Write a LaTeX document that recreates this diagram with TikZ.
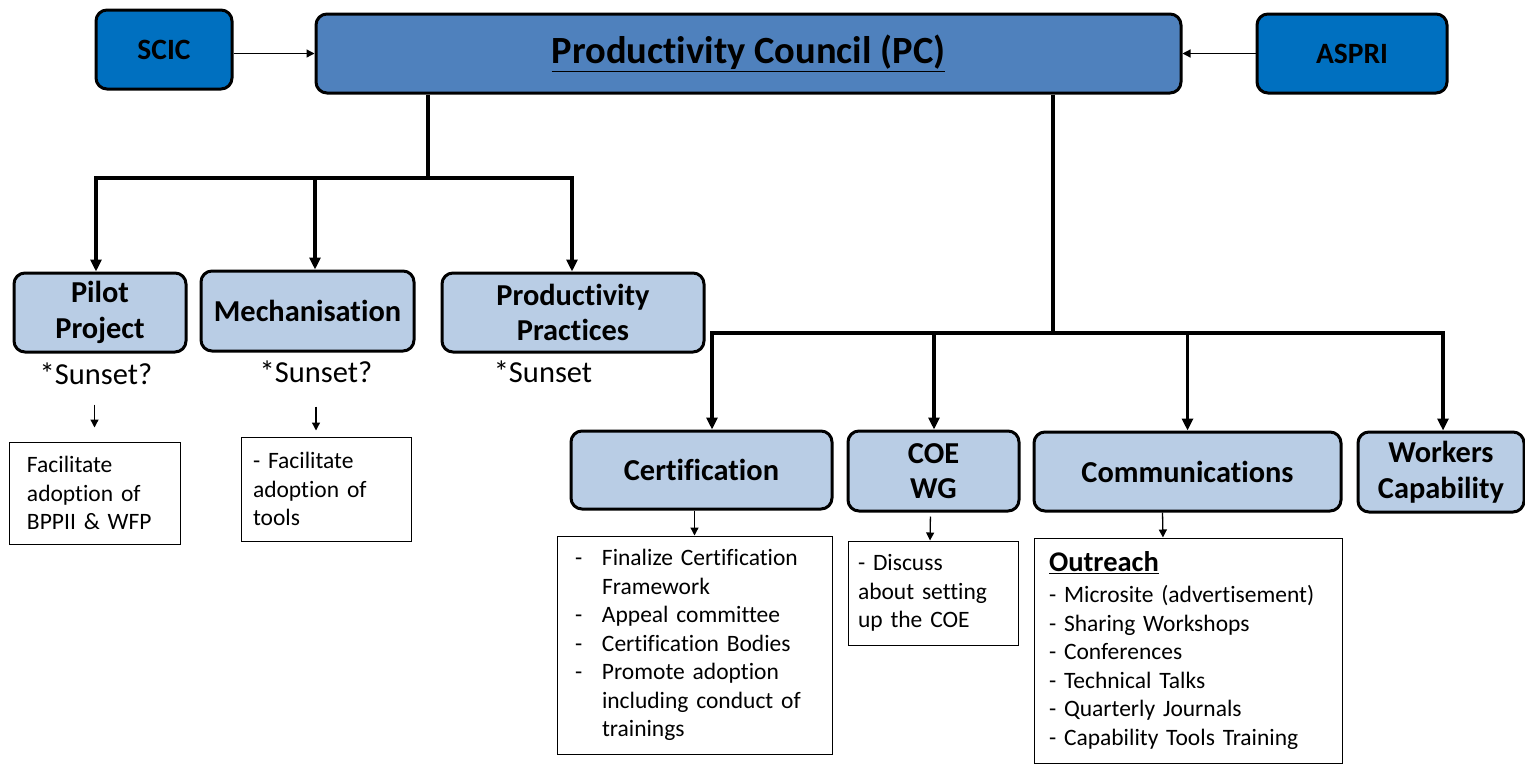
\documentclass[tikz,border=0pt]{standalone}
\usepackage{fontspec}
\setmainfont{Carlito}[Ligatures=NoCommon]
\usetikzlibrary{arrows.meta,calc}
\definecolor{topblue}{HTML}{0070C0}
\definecolor{pcblue}{HTML}{4F81BD}
\definecolor{lightblue}{HTML}{B9CDE5}
\begin{document}
\begin{tikzpicture}[x=1pt,y=-1pt,
  topbox/.style={draw=black, line width=3pt, rounded corners=11pt, fill=topblue, inner sep=0pt,
     font=\fontsize{29.5}{34}\selectfont\bfseries},
  pcbox/.style={draw=black, line width=3pt, rounded corners=11pt, fill=pcblue, inner sep=0pt,
     font=\fontsize{38.5}{44}\selectfont\bfseries},
  subbox/.style={draw=black, line width=3pt, rounded corners=11pt, fill=lightblue, inner sep=0pt,
     align=center, font=\fontsize{30.4}{35.5}\selectfont\bfseries},
  txtbox/.style={draw=black, line width=1pt, fill=white, inner ysep=0pt, align=left,
     font=\fontsize{23.5}{28.5}\selectfont},
  sunset/.style={inner sep=0pt, font=\fontsize{30.5}{34}\selectfont},
  conn/.style={line width=3.5pt},
  connarr/.style={line width=3.5pt, -{Triangle[length=12pt,width=11pt]}},
  small/.style={line width=1.3pt, -{Triangle[length=8pt,width=8pt]}},
]
\useasboundingbox (0,0) rectangle (1525,763);

% top row
\node[pcbox, minimum width=865pt, minimum height=79pt] (pc) at (748.5,53.5) {\raisebox{-3pt}{\underline{Productivity Council (PC)}}};
\node[topbox, minimum width=136pt, minimum height=79pt] (scic) at (164,49.5) {SCIC};
\node[topbox, minimum width=190pt, minimum height=79pt] (aspri) at (1352,53.5) {ASPRI};

\draw[small] ($(scic.east)+(0,4)$) -- ($(scic.east -| pc.west)+(0,4)$);
\draw[small] (aspri.west) -- (aspri.west -| pc.east);

% left group
\node[subbox, minimum width=172pt, minimum height=79pt] (pilot) at (100,312.5) {Pilot\\Project};
\node[subbox, minimum width=213pt, minimum height=80pt] (mech) at (307.5,311) {Mechanisation};
\node[subbox, minimum width=262pt, minimum height=79pt] (pp) at (573,312.5) {Productivity\\Practices};

\coordinate (lj) at (428,178);
\draw[conn] (pc.south -| lj) -- (lj);
\draw[conn] (lj) -- (96,178);
\draw[connarr] (lj) -| ($(pilot.north)+(-4,0)$);
\draw[connarr] (lj) -| ($(mech.north)+(7.5,0)$);
\draw[connarr] (lj) -| ($(pp.north)+(-1,0)$);

\node[sunset] (sun1) at (96,374) {*Sunset?};
\node[sunset] (sun2) at (316,372) {*Sunset?};
\node[sunset] (sun3) at (543,372) {*Sunset};

\node[txtbox, inner xsep=18pt, text width=135pt, minimum height=102pt] (pilotT) at (94.5,493)
  {Facilitate\\adoption of\\BPPII \& WFP};
\node[txtbox, inner xsep=12pt, text width=146pt, minimum height=104pt] (mechT) at (326,489)
  {- Facilitate\\adoption of\\tools};

\draw[small] ($(pilotT.north)+(0,-37)$) -- ($(pilotT.north)+(0,-14)$);
\draw[small] ($(mechT.north)+(-10,-30)$) -- ($(mechT.north)+(-10,-6)$);

% right group
\node[subbox, minimum width=261pt, minimum height=78pt] (cert) at (701.5,470) {Certification};
\node[subbox, minimum width=171pt, minimum height=80pt] (coe) at (933.5,471) {COE\\WG};
\node[subbox, minimum width=307pt, minimum height=79pt] (comm) at (1187.5,471.5) {Communications};
\node[subbox, minimum width=166pt, minimum height=80pt] (work) at (1441,472) {Workers\\Capability};

\coordinate (rj) at (1053,333);
\draw[conn] (pc.south -| rj) -- (rj);
\draw[conn] (rj) -- (712,333);
\draw[connarr] (rj) -| ($(cert.north)+(10.5,0)$);
\draw[connarr] (rj) -| ($(coe.north)+(0.5,0)$);
\draw[connarr] (rj) -| ($(comm.north)+(0,0)$);
\draw[connarr] (rj) -| ($(work.north)+(2,0)$);

\node[txtbox, inner xsep=18pt, text width=239pt, minimum height=218pt] (certT) at (694.5,645)
  {\makebox[27pt][l]{-}Finalize Certification\\
   \hspace*{27pt}Framework\\
   \makebox[27pt][l]{-}Appeal committee\\
   \makebox[27pt][l]{-}Certification Bodies\\
   \makebox[27pt][l]{-}Promote adoption\\
   \hspace*{27pt}including conduct of\\
   \hspace*{27pt}trainings};
\node[txtbox, inner xsep=10pt, text width=150pt, minimum height=104pt] (coeT) at (933,593)
  {- Discuss\\about setting\\up the COE};
\node[txtbox, inner xsep=15pt, text width=278pt, minimum height=225pt] (commT) at (1188,650.5)
  {{\fontsize{28.5}{32}\selectfont\bfseries\underline{Outreach}}\\[3pt]
   - Microsite (advertisement)\\
   - Sharing Workshops\\
   - Conferences\\
   - Technical Talks\\
   - Quarterly Journals\\
   - Capability Tools Training};

\draw[small] (cert.south -| certT.north) -- (certT.north);
\draw[small, shorten <=4pt] ($(coe.south)+(-3,0)$) -- ($(coeT.north)+(-3,0)$);
\draw[small] ($(comm.south)+(-25,0)$) -- ($(commT.north)+(-25,0)$);
\end{tikzpicture}
\end{document}
